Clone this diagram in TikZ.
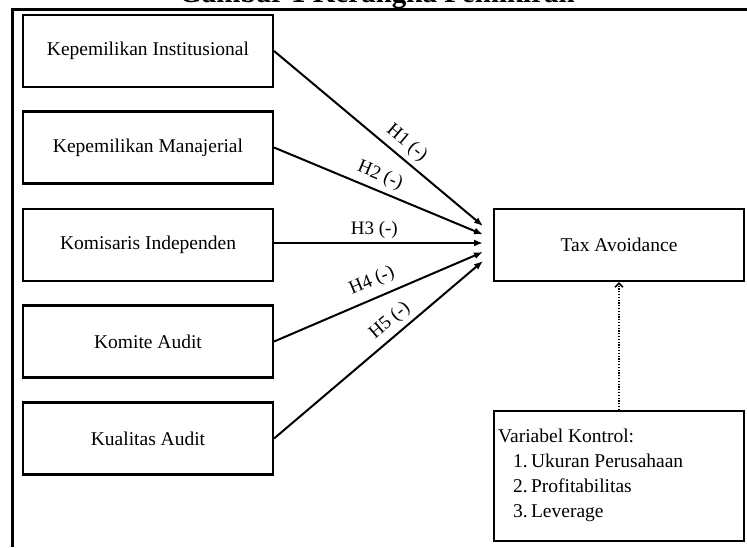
\documentclass[tikz,border=0pt]{standalone}
\usepackage{fontspec}
\setmainfont{Liberation Serif}
\usetikzlibrary{arrows.meta}
\begin{document}
\begin{tikzpicture}[x=1pt,y=-1pt,
  box/.style={draw, line width=2.1pt, minimum width=250pt, minimum height=72pt, inner sep=0pt, font=\fontsize{19.5}{21}\selectfont},
  txt/.style={font=\fontsize{19.5}{21}\selectfont, inner sep=0pt, anchor=base west},
  lbl/.style={font=\fontsize{19}{21}\selectfont, sloped, above, inner sep=5pt},
  arr/.style={line width=2pt, -{Latex[length=9pt,width=7pt]}},
  ctl/.style={line width=2.2pt, dash pattern=on 1.2pt off 1.6pt, -{Straight Barb[length=4pt,width=8pt,line width=1.6pt]}},
  frameline/.style={line width=3pt}]
\useasboundingbox (0,0) rectangle (747,547);
% clipped title
\begin{scope}
  \clip (0,0) rectangle (747,8);
  \node[font=\bfseries\fontsize{29}{30}\selectfont, anchor=base, inner sep=0pt] (title) at (377,2.5) {Gambar 1 Kerangka Pemikiran};
\end{scope}
% frame
\draw[frameline] (12,547) -- (12,9.5) -- (747,9.5);
% boxes
\node[box] (b1) at (148,51) {Kepemilikan Institusional};
\node[box] (b2) at (148,147.5) {Kepemilikan Manajerial};
\node[box] (b3) at (148,245) {Komisaris Independen};
\node[box] (b4) at (148,341.5) {Komite Audit};
\node[box] (b5) at (148,438.5) {Kualitas Audit};
\node[box] (tax) at (619,245) {Tax Avoidance};
\node[box, minimum height=130pt] (ctrl) at (619,476) {};
\node[txt] (c0) at (498,442) {Variabel Kontrol:};
\node[txt] (c1) at (513,467) {1.\,Ukuran Perusahaan};
\node[txt] (c2) at (513,492) {2.\,Profitabilitas};
\node[txt] (c3) at (513,517) {3.\,Leverage};
% arrow end points
\coordinate (e1) at (483,226);
\coordinate (e2) at (483,234.5);
\coordinate (e3) at (483,243);
\coordinate (e4) at (483,252);
\coordinate (e5) at (483,261);
\draw[arr] (b1.east) -- node[lbl, pos=0.59] (h1) {H1 (-)} (e1);
\draw[arr] (b2.east) -- node[lbl, pos=0.48] (h2) {H2 (-)} (e2);
\draw[arr] (b3.east |- e3) -- node[lbl, pos=0.48, inner sep=3pt] (h3) {H3 (-)} (e3);
\draw[arr] (b4.east) -- node[lbl, pos=0.5, inner sep=7pt] (h4) {H4 (-)} (e4);
\draw[arr] (b5.east) -- node[lbl, pos=0.6] (h5) {H5 (-)} (e5);
\draw[ctl] (ctrl.north) -- (tax.south);
\end{tikzpicture}
\end{document}
